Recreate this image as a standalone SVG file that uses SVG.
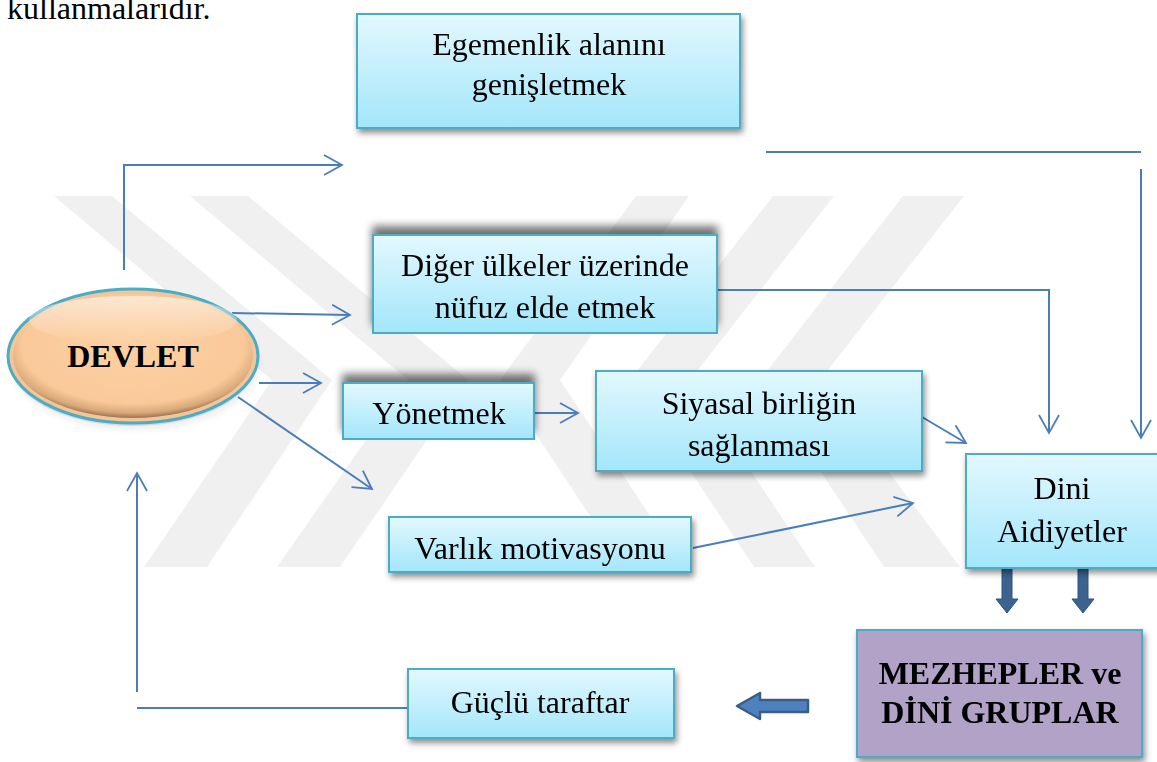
<svg xmlns="http://www.w3.org/2000/svg" width="1157" height="762" viewBox="0 0 1157 762">
<style>
.box{fill:url(#boxg);stroke:#4bacc6;stroke-width:2}
.t{font-family:"Liberation Serif","Times New Roman",serif;font-size:32px;fill:#000;text-anchor:middle}
.tb{font-weight:bold}
.c{fill:none;stroke:#4a7ebb;stroke-width:2}
.ca{marker-end:url(#ah)}
.blk{fill:#3c6290;stroke:#2e5180;stroke-width:1}
.wm{fill:#f0f0f0}
</style>
<defs>
<linearGradient id="boxg" x1="0" y1="0" x2="0" y2="1"><stop offset="0" stop-color="#e3f8fe"/><stop offset="1" stop-color="#a3e6fa"/></linearGradient>
<radialGradient id="ovalg" cx="0.5" cy="0.42" r="0.58"><stop offset="0" stop-color="#fcd0a2"/><stop offset="0.8" stop-color="#fac99a"/><stop offset="0.93" stop-color="#d9a878"/><stop offset="1" stop-color="#9c7250"/></radialGradient>
<linearGradient id="hi" x1="0" y1="0" x2="0" y2="1"><stop offset="0" stop-color="#fff" stop-opacity="0.55"/><stop offset="1" stop-color="#fff" stop-opacity="0"/></linearGradient>
<filter id="sh" x="-10%" y="-10%" width="130%" height="140%"><feGaussianBlur in="SourceAlpha" stdDeviation="3"/><feOffset dx="2" dy="4"/><feComponentTransfer><feFuncA type="linear" slope="0.45"/></feComponentTransfer><feMerge><feMergeNode/><feMergeNode in="SourceGraphic"/></feMerge></filter>
<filter id="shUp" x="-10%" y="-40%" width="130%" height="160%"><feGaussianBlur in="SourceAlpha" stdDeviation="4"/><feOffset dx="0" dy="-8"/><feComponentTransfer><feFuncA type="linear" slope="0.55"/></feComponentTransfer><feMerge><feMergeNode/><feMergeNode in="SourceGraphic"/></feMerge></filter>
<marker id="ah" markerUnits="userSpaceOnUse" markerWidth="22" markerHeight="24" refX="19" refY="11" orient="auto"><path d="M1,1 L19,11 L1,21" fill="none" stroke="#4a7ebb" stroke-width="1.8"/></marker>
</defs>
<rect width="1157" height="762" fill="#fff"/>

<g id="watermark">
<polygon class="wm" points="54,196 112,196 332,380 207,567 144,567 272,380"/>
<polygon class="wm" points="190,196 248,196 468,380 340,567 277,567 408,380"/>
<polygon class="wm" points="964,196 903,196 760,380 884,567 960,567 820,380"/>
<polygon class="wm" points="834,196 773,196 630,380 754,567 815,567 690,380"/>
<polygon class="wm" points="689,196 636,196 500,380 624,567 684,567 560,380"/>
</g>

<text class="t" x="7" y="19" style="text-anchor:start">kullanmalarıdır.</text>

<g id="connectors">
<path class="c ca" d="M124,270 V165 H342"/>
<path class="c" d="M766,152 H1141"/>
<path class="c ca" d="M1141,169 V438"/>
<path class="c ca" d="M717,290 H1049 V433"/>
<path class="c ca" d="M232,313 L350,315"/>
<path class="c ca" d="M259,383 L321,383"/>
<path class="c ca" d="M238,397 L372,489"/>
<path class="c ca" d="M535,413 L578,413"/>
<path class="c ca" d="M922,417 L966,443"/>
<path class="c ca" d="M693,548 L913,503"/>
<path class="c" d="M408,708 H137"/>
<path class="c ca" d="M137,692 V473"/>
<polygon class="blk" points="1002,569 1012,569 1012,599 1018,599 1007,613 996,599 1002,599"/>
<polygon class="blk" points="1078,569 1088,569 1088,599 1094,599 1083,613 1072,599 1078,599"/>
<polygon points="808,700 760,700 760,693 737,706 760,719 760,712 808,712" fill="#4f81bd" stroke="#385d8a" stroke-width="2.5" stroke-linejoin="round"/>
</g>

<g id="devlet">
<ellipse cx="133" cy="359" rx="125" ry="67" fill="#000" opacity="0.15" filter="url(#sh)"/>
<ellipse cx="133" cy="356" rx="125" ry="67" fill="#f3c699" stroke="#4bacc6" stroke-width="3"/>
<ellipse cx="133" cy="356" rx="120" ry="62" fill="url(#ovalg)"/>
<ellipse cx="133" cy="320" rx="104" ry="24" fill="url(#hi)"/>
<text class="t tb" x="133" y="367">DEVLET</text>
</g>

<g id="egemenlik" filter="url(#sh)">
<rect class="box" x="357" y="14" width="383" height="114"/>
<text class="t" x="549" y="55">Egemenlik alanını</text>
<text class="t" x="549" y="95">genişletmek</text>
</g>

<g id="diger" filter="url(#shUp)">
<rect class="box" x="373" y="235" width="344" height="98"/>
<text class="t" x="545" y="276">Diğer ülkeler üzerinde</text>
<text class="t" x="545" y="318">nüfuz elde etmek</text>
</g>

<g id="yonetmek" filter="url(#shUp)">
<rect class="box" x="343" y="383" width="191" height="56"/>
<text class="t" x="439" y="424">Yönetmek</text>
</g>

<g id="siyasal" filter="url(#sh)">
<rect class="box" x="596" y="371" width="326" height="100"/>
<text class="t" x="759" y="414">Siyasal birliğin</text>
<text class="t" x="759" y="456">sağlanması</text>
</g>

<g id="varlik" filter="url(#sh)">
<rect class="box" x="389" y="517" width="302" height="55"/>
<text class="t" x="540" y="559">Varlık motivasyonu</text>
</g>

<g id="dini" filter="url(#sh)">
<rect class="box" x="966" y="454" width="200" height="114"/>
<text class="t" x="1062" y="499">Dini</text>
<text class="t" x="1062" y="542">Aidiyetler</text>
</g>

<g id="mezhepler" filter="url(#sh)">
<rect x="857" y="630" width="285" height="127" fill="#b2a2c7" stroke="#4bacc6" stroke-width="2"/>
<text class="t tb" x="1000" y="684">MEZHEPLER ve</text>
<text class="t tb" x="1000" y="723">DİNİ GRUPLAR</text>
</g>

<g id="guclu" filter="url(#sh)">
<rect class="box" x="408" y="669" width="266" height="69"/>
<text class="t" x="540" y="713">Güçlü taraftar</text>
</g>
</svg>
